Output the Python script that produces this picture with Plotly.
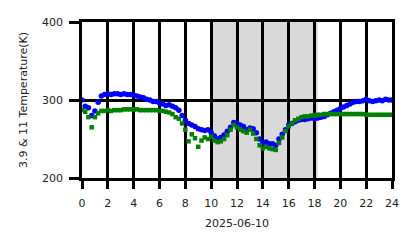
import plotly.graph_objects as go

hours = [i * 0.25 for i in range(97)]

bt_39 = [300, 292, 290, 280, 286, 297, 305, 307, 308, 307, 308, 308, 307, 308, 307, 307,
         306, 305, 304, 303, 301, 300, 298, 298, 296, 295, 293, 294, 292, 290, 287, 280,
         274, 270, 268, 266, 263, 262, 261, 262, 258, 254, 250, 252, 255, 260, 265, 271,
         270, 268, 266, 262, 264, 263, 258, 250, 245, 246, 244, 244, 242, 250, 256, 262,
         268, 270, 272, 274, 275, 275, 276, 277, 276, 277, 278, 279, 281, 283, 285, 287,
         289, 291, 293, 295, 297, 298, 298, 299, 301, 299, 298, 299, 300, 299, 301, 300, 300]

bt_11 = [287, 285, 278, 265, 278, 283, 286, 286, 287, 286, 287, 287, 287, 288, 288, 288,
         288, 288, 287, 287, 287, 287, 287, 287, 286, 286, 285, 284, 282, 278, 276, 270,
         262, 247, 256, 251, 240, 248, 252, 250, 253, 248, 246, 247, 250, 255, 262, 268,
         265, 262, 260, 258, 262, 257, 250, 242, 238, 240, 238, 237, 236, 245, 252, 260,
         266, 270, 274, 276, 278, 279, 279, 280, 280, 281, 281, 282, 282, 282, 282, 282,
         282, 282, 282, 282, 282, 282, 282, 282, 281, 281, 281, 281, 281, 281, 281, 281, 281]

x_ticks = list(range(0, 25, 2))
y_ticks = [200, 300, 400]
shade_start, shade_end = 10.0, 18.25

fig = go.Figure()
fig.add_trace(go.Scatter(x=hours, y=bt_39, mode="markers",
                         marker=dict(color="#0000ff", size=5.5, symbol="circle", line=dict(width=0))))
fig.add_trace(go.Scatter(x=hours, y=bt_11, mode="markers",
                         marker=dict(color="#008000", size=4.5, symbol="square", line=dict(width=0))))

fig.add_shape(type="rect", xref="x", yref="paper", x0=shade_start, x1=shade_end, y0=0, y1=1,
              fillcolor="#d9d9d9", line=dict(width=0), layer="below")

font = dict(family="DejaVu Sans", size=11, color="#222222")
fig.update_layout(
    width=418, height=248,
    margin=dict(l=82, r=26, t=22, b=70),
    paper_bgcolor="white", plot_bgcolor="white",
    showlegend=False, font=font,
    xaxis=dict(range=[0, 24], tickvals=x_ticks, ticktext=[str(v) for v in x_ticks],
               showgrid=True, gridcolor="black", gridwidth=2.5,
               showline=True, linecolor="black", linewidth=2.5, mirror=True,
               ticks="outside", ticklen=8, tickwidth=2.5, tickcolor="black",
               ticklabelstandoff=5,
               zeroline=False, layer="above traces",
               title=dict(text="2025-06-10", font=font, standoff=11)),
    yaxis=dict(range=[200, 400], tickvals=y_ticks,
               showgrid=True, gridcolor="black", gridwidth=2.5,
               showline=True, linecolor="black", linewidth=2.5, mirror=True,
               ticks="outside", ticklen=10, tickwidth=2.5, tickcolor="black",
               ticklabelstandoff=4,
               zeroline=False, layer="above traces",
               title=dict(text="3.9 & 11 Temperature(K)", font=font, standoff=13)),
)

fig.write_html("out.html")
